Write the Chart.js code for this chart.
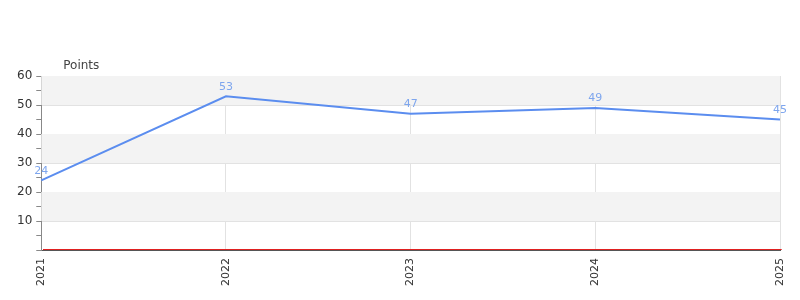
<!DOCTYPE html>
<html>
<head>
<meta charset="utf-8">
<script src="https://cdn.jsdelivr.net/npm/chart.js@4/dist/chart.umd.min.js"></script>
<style>
  body { margin: 0; background: #fff; }
  #wrap { width: 800px; height: 300px; }
</style>
</head>
<body>
<div id="wrap"><canvas id="myChart" width="800" height="300"></canvas></div>
<script>
const years = ['2021', '2022', '2023', '2024', '2025'];
const points = [24, 53, 47, 49, 45];
const yTitle = 'Points';

const lineColor = '#5b8def';
const labelColor = '#7ea6ee';

// alternate grey bands, zero line, value labels and the axis title
const decorPlugin = {
    id: 'decor',
    beforeDatasetsDraw(chart) {
        const ctx = chart.ctx;
        const area = chart.chartArea;
        const y = chart.scales.y;
        ctx.save();
        for (let v = 50; v >= 10; v -= 20) {
            const top = y.getPixelForValue(v + 10);
            const bot = y.getPixelForValue(v);
            ctx.fillStyle = '#f3f3f3';
            ctx.fillRect(area.left, top, area.right - area.left, bot - top);
        }
        ctx.restore();
    },
    afterDraw(chart) {
        const ctx = chart.ctx;
        const area = chart.chartArea;
        const y = chart.scales.y;
        ctx.save();
        // zero line, one pixel row above the axis border
        const borderRow = Math.round(y.getPixelForValue(0) - 0.5);
        ctx.fillStyle = '#e02020';
        ctx.fillRect(Math.ceil(area.left) + 1, borderRow - 1, area.right - area.left, 1);

        const meta = chart.getDatasetMeta(0);
        ctx.fillStyle = labelColor;
        ctx.font = '11px "DejaVu Sans"';
        ctx.textAlign = 'center';
        ctx.textBaseline = 'bottom';
        meta.data.forEach((pt, i) => {
            ctx.fillText(String(points[i]), pt.x, pt.y - 4);
        });

        ctx.fillStyle = '#444';
        ctx.font = '12px "DejaVu Sans"';
        ctx.textAlign = 'left';
        ctx.textBaseline = 'bottom';
        ctx.fillText(yTitle, area.left + 22, area.top - 4);
        ctx.restore();
    }
};

const conf = {
    type: 'line',
    data: {
        labels: years,
        datasets: [{
            label: yTitle,
            data: points,
            borderColor: lineColor,
            borderWidth: 2,
            pointRadius: 0,
            tension: 0,
            fill: false
        }]
    },
    options: {
        responsive: false,
        animation: false,
        layout: { padding: { top: 76, right: 20, bottom: 6, left: 13 } },
        plugins: {
            legend: { display: false },
            tooltip: { enabled: false }
        },
        scales: {
            x: {
                offset: false,
                afterFit: s => { s.paddingRight = 0; },
                grid: { color: '#e2e2e2', drawTicks: false },
                border: { color: '#555', width: 1 },
                ticks: {
                    minRotation: 90,
                    maxRotation: 90,
                    padding: 8,
                    color: '#333',
                    font: { family: 'DejaVu Sans', size: 11 }
                }
            },
            y: {
                min: 0,
                max: 60,
                grid: {
                    color: c => (c.tick.value % 10 === 0 && c.tick.value !== 0) ? '#e2e2e2' : 'rgba(0,0,0,0)',
                    tickColor: '#888',
                    tickLength: 5
                },
                border: { color: '#888' },
                ticks: {
                    stepSize: 5,
                    autoSkip: false,
                    padding: 4,
                    color: '#333',
                    font: { family: 'DejaVu Sans', size: 12 },
                    callback: v => (v % 10 === 0 && v !== 0) ? v : ''
                }
            }
        }
    },
    plugins: [decorPlugin]
};

const ctx = document.getElementById('myChart').getContext('2d');
const chart = new Chart(ctx, conf);
</script>
</body>
</html>
